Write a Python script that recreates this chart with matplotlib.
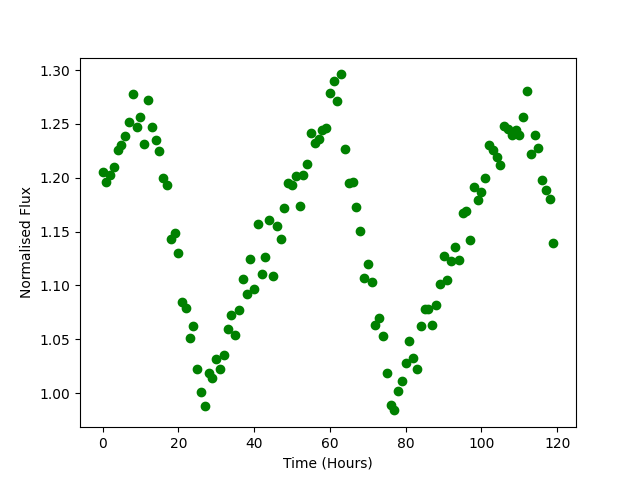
import numpy as np
import matplotlib
matplotlib.use("Agg")
import matplotlib.pyplot as plt

# hourly flux readings
hours = np.arange(120)
flux = [
    1.205, 1.196, 1.203, 1.210, 1.226, 1.230, 1.239, 1.252, 1.278, 1.247,
    1.256, 1.231, 1.272, 1.247, 1.235, 1.225, 1.200, 1.193, 1.143, 1.149,
    1.130, 1.085, 1.079, 1.051, 1.062, 1.022, 1.001, 0.988, 1.019, 1.014,
    1.032, 1.022, 1.035, 1.060, 1.073, 1.054, 1.077, 1.106, 1.092, 1.125,
    1.097, 1.157, 1.111, 1.126, 1.161, 1.109, 1.155, 1.143, 1.172, 1.195,
    1.193, 1.202, 1.174, 1.203, 1.213, 1.242, 1.232, 1.236, 1.244, 1.246,
    1.279, 1.290, 1.271, 1.296, 1.227, 1.195, 1.196, 1.173, 1.151, 1.107,
    1.120, 1.103, 1.063, 1.070, 1.053, 1.019, 0.989, 0.984, 1.002, 1.011,
    1.028, 1.048, 1.033, 1.022, 1.062, 1.078, 1.078, 1.063, 1.082, 1.101,
    1.127, 1.105, 1.123, 1.136, 1.124, 1.167, 1.169, 1.142, 1.191, 1.179,
    1.187, 1.200, 1.230, 1.226, 1.219, 1.212, 1.248, 1.245, 1.240, 1.244,
    1.240, 1.256, 1.281, 1.222, 1.240, 1.228, 1.198, 1.189, 1.180, 1.139,
]

fig, ax = plt.subplots(figsize=(6.4, 4.8), dpi=100)
ax.plot(hours, flux, "go")
ax.set_xlabel("Time (Hours)")
ax.set_ylabel("Normalised Flux")

plt.savefig("out.png")
plt.close()
